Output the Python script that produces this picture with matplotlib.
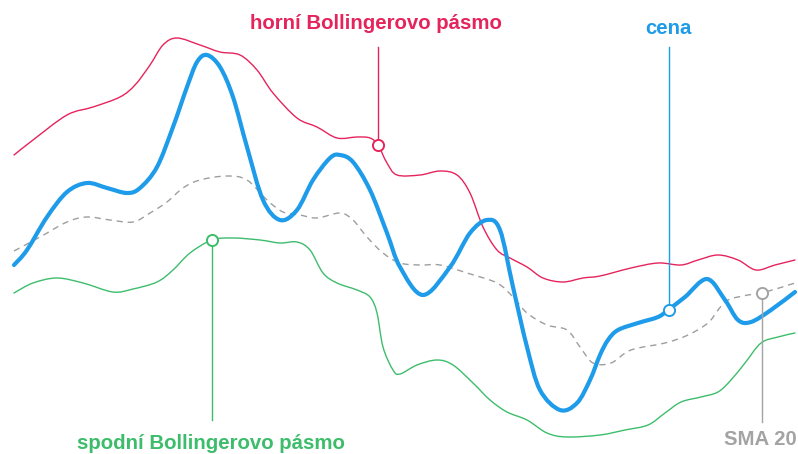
import numpy as np
import matplotlib
matplotlib.use("Agg")
import matplotlib.pyplot as plt
from matplotlib.path import Path
from matplotlib.patches import PathPatch

plt.rcParams["font.family"] = ["Liberation Sans", "DejaVu Sans"]

# Hodnoty (bez os, jednotky = pozice v grafu, y roste dolu)
upper_x = [14, 33, 67, 93, 120, 135, 150, 163, 177, 200, 220, 240, 257, 273, 297, 317, 337,
           357, 370, 378, 387, 397, 420, 440, 457, 470, 483, 497, 510, 527, 543, 563, 583,
           600, 631, 658, 681, 698, 718, 738, 756, 775, 795]
upper_y = [155, 140, 115, 107, 97, 85, 65, 45, 38, 45, 52, 55, 70, 93, 118, 127, 138,
           137, 138, 145, 163, 175, 175, 171, 175, 193, 227, 250, 258, 267, 278, 282, 278,
           276, 268, 263, 265, 260, 255, 260, 270, 265, 260]

price_x = [14, 27, 47, 67, 87, 107, 127, 140, 157, 173, 187, 197, 207, 220, 233, 247, 263,
           280, 297, 313, 330, 340, 353, 370, 387, 400, 423, 450, 470, 487, 500, 513, 527,
           540, 560, 577, 590, 600, 608, 618, 638, 658, 668, 685, 707, 725, 738, 751, 771, 795]
price_y = [265, 250, 217, 192, 183, 188, 193, 188, 167, 127, 87, 62, 55, 67, 97, 147, 200,
           220, 210, 180, 158, 155, 162, 190, 233, 267, 295, 267, 233, 220, 230, 287, 347,
           390, 410, 403, 380, 355, 340, 330, 323, 317, 310, 297, 279, 300, 320, 322, 310, 292]

sma_x = [14, 40, 67, 87, 110, 133, 150, 167, 183, 200, 227, 247, 267, 283, 300, 317, 340,
         353, 367, 383, 400, 420, 440, 467, 497, 513, 527, 547, 567, 580, 593, 611, 631,
         665, 688, 708, 718, 728, 748, 762, 795]
sma_y = [251, 237, 222, 217, 220, 222, 213, 202, 188, 180, 176, 180, 200, 212, 215, 218, 213,
         220, 237, 253, 263, 265, 265, 273, 283, 297, 313, 325, 330, 347, 363, 363, 350,
         343, 335, 323, 310, 300, 295, 293, 283]

lower_x = [14, 33, 57, 83, 113, 133, 157, 173, 190, 212, 233, 260, 280, 297, 310, 323, 337,
           357, 370, 377, 383, 393, 400, 417, 437, 453, 473, 490, 507, 527, 547, 567, 600,
           625, 648, 665, 681, 701, 718, 731, 745, 761, 778, 795]
lower_y = [293, 283, 278, 283, 292, 289, 282, 270, 253, 240, 238, 240, 243, 242, 250, 273, 283,
           290, 297, 313, 347, 370, 374, 365, 360, 365, 383, 400, 412, 420, 433, 437, 435,
           430, 425, 413, 402, 397, 392, 380, 363, 343, 337, 333]

# popisky: text, barva, bod na krivce, konec vodici cary, pozice textu (uctaret)
labels = ["horní Bollingerovo pásmo", "cena", "spodní Bollingerovo pásmo", "SMA 20"]
label_colors = ["#e5245c", "#1e9be9", "#3dbd6c", "#a3a3a3"]
anchor_x = [378, 669, 212, 762]
anchor_y = [145, 310, 240, 293]
line_end_y = [47, 47, 420, 422]
text_x = [376, 668, 211, 760]
text_base = [29, 34, 449, 445]


def smooth_path(xs, ys):
    """Catmull-Rom krivka prevedena na Bezierovu cestu."""
    p = np.column_stack([xs, ys]).astype(float)
    p = np.vstack([p[0], p, p[-1]])
    verts = [p[1]]
    codes = [Path.MOVETO]
    for i in range(1, len(p) - 2):
        c1 = p[i] + (p[i + 1] - p[i - 1]) / 6.0
        c2 = p[i + 1] - (p[i + 2] - p[i]) / 6.0
        verts += [c1, c2, p[i + 1]]
        codes += [Path.CURVE4] * 3
    return Path(verts, codes)


fig = plt.figure(figsize=(7.98, 4.54), dpi=100)
ax = fig.add_axes([0, 0, 1, 1])
ax.set_xlim(0, 798)
ax.set_ylim(454, 0)
ax.axis("off")

ax.add_patch(PathPatch(smooth_path(upper_x, upper_y), fill=False,
                       edgecolor=label_colors[0], lw=1.0, capstyle="round"))
ax.add_patch(PathPatch(smooth_path(lower_x, lower_y), fill=False,
                       edgecolor=label_colors[2], lw=1.0, capstyle="round"))
ax.add_patch(PathPatch(smooth_path(sma_x, sma_y), fill=False,
                       edgecolor="#9e9e9e", lw=1.0, linestyle=(0, (4.5, 3.5))))
ax.add_patch(PathPatch(smooth_path(price_x, price_y), fill=False,
                       edgecolor=label_colors[1], lw=3.0, capstyle="round",
                       joinstyle="round"))

for i, text in enumerate(labels):
    ax.plot([anchor_x[i], anchor_x[i]], [anchor_y[i], line_end_y[i]],
            color=label_colors[i], lw=1.0, zorder=3)
    ax.plot(anchor_x[i], anchor_y[i], marker="o", ms=8, mfc="white",
            mec=label_colors[i], mew=1.4, zorder=4)
    ax.text(text_x[i], text_base[i], text, color=label_colors[i], fontsize=14.7,
            fontweight="bold", ha="center", va="baseline")

fig.savefig("out.png", dpi=100)
